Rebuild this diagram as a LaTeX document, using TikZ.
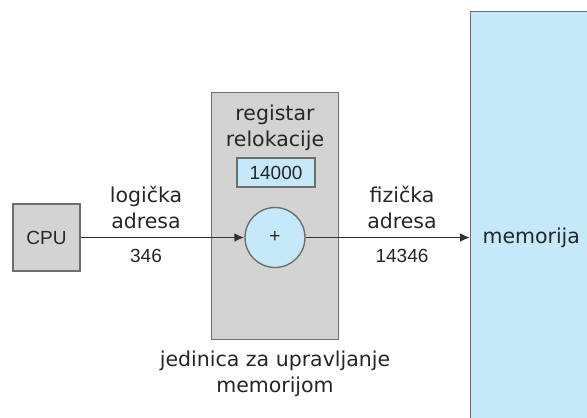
\documentclass[tikz,border=0pt]{standalone}
\usepackage{fontspec}
\setmainfont{DejaVu Sans}
\newfontfamily\numfont{Liberation Sans}
\usetikzlibrary{arrows.meta}
\definecolor{boxgray}{HTML}{D3D3D4}
\definecolor{memblue}{HTML}{C6E9F9}
\definecolor{edgegray}{HTML}{6E6E6E}
\tikzset{x=1pt,y=-1pt,
    box/.style={draw=edgegray,line width=1.4pt,fill=boxgray},
    bluebox/.style={draw=edgegray,line width=1.4pt,fill=memblue},
    lbl/.style={align=center,font=\fontsize{20.5}{26}\selectfont,text=black!85},
    num/.style={font=\numfont\fontsize{19}{23}\selectfont,text=black!85},
    addr/.style={line width=1.9pt,draw=black!80,-{Latex[length=10pt,width=9pt]}},
    }

\begin{document}
\begin{tikzpicture}
\useasboundingbox (0,0) rectangle (587,418);
\clip (0,0) rectangle (587,418);
% boxes
\node[box,num,minimum width=67pt,minimum height=67pt] (cpu) at (46.5,237.5) {CPU};
\node[box,minimum width=127pt,minimum height=247pt,anchor=north west] (mmu) at (211,92) {};
\node[bluebox,minimum width=140pt,minimum height=430pt,anchor=north west] (mem) at (470,11) {};
\node[lbl] (reg) at (275,128) {registar\\relokacije};
\node[bluebox,num,minimum width=78pt,minimum height=29pt,inner sep=0pt] (base) at (276,172.5) {14000};
\node[bluebox,circle,num,minimum size=60pt,inner sep=0pt] (add) at (275,237.5) {+};
\node[lbl,anchor=west] (memlbl) at (479,238) {memorija};
% addresses
\node[lbl] (laddr) at (146,207) {logička\\adresa};
\node[num] (lval) at (146,256) {346};
\node[lbl] (paddr) at (402,207) {fizička\\adresa};
\node[num] (pval) at (402,256) {14346};
\node[lbl] (mmucap) at (275,374) {jedinica za upravljanje\\memorijom};
\draw[addr] (cpu) -- (add);
\draw[addr] (add) -- (mem.west|-add);
\end{tikzpicture}
\end{document}
